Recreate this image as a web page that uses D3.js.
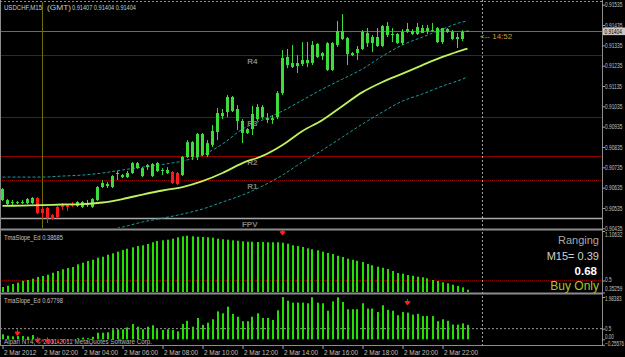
<!DOCTYPE html>
<html><head><meta charset="utf-8">
<script src="https://cdn.jsdelivr.net/npm/d3@7"></script>
<style>html,body{margin:0;padding:0;background:#000;overflow:hidden}</style>
</head><body><svg id="c" width="625" height="357"></svg>
<script>
// ---------- DATA ----------
const opens = [0.90574,0.90554,0.90559,0.90562,0.90559,0.90559,0.90559,0.90584,0.90530,0.90535,
0.90500,0.90540,0.90549,0.90549,0.90549,0.90545,0.90540,0.90549,0.90540,0.90574,
0.90638,0.90643,0.90638,0.90702,0.90687,0.90687,0.90707,0.90731,0.90692,0.90736,
0.90692,0.90717,0.90717,0.90707,0.90712,0.90707,0.90697,0.90786,0.90786,0.90786,
0.90795,0.90795,0.90845,0.90909,0.90987,0.91007,0.91012,0.91022,0.90963,0.90923,
0.90923,0.90972,0.90982,0.90977,0.90977,0.90982,0.91100,0.91278,0.91248,0.91248,
0.91243,0.91248,0.91248,0.91278,0.91297,0.91346,0.91214,0.91337,0.91405,0.91371,
0.91297,0.91297,0.91317,0.91396,0.91346,0.91376,0.91332,0.91430,0.91386,0.91391,
0.91346,0.91401,0.91405,0.91391,0.91420,0.91405,0.91410,0.91420,0.91351,0.91415,
0.91401,0.91366,0.91366,0.91407];
const highs = [0.90633,0.90579,0.90574,0.90569,0.90574,0.90584,0.90589,0.90589,0.90540,0.90540,
0.90505,0.90545,0.90559,0.90554,0.90564,0.90569,0.90569,0.90574,0.90584,0.90643,
0.90672,0.90663,0.90697,0.90717,0.90702,0.90717,0.90761,0.90761,0.90736,0.90751,
0.90756,0.90761,0.90731,0.90736,0.90717,0.90712,0.90791,0.90869,0.90864,0.90904,
0.90904,0.90869,0.90943,0.91027,0.91022,0.91091,0.91086,0.91041,0.90972,0.90928,
0.91037,0.91046,0.91041,0.91002,0.90992,0.91110,0.91312,0.91317,0.91337,0.91287,
0.91351,0.91351,0.91356,0.91346,0.91302,0.91351,0.91351,0.91455,0.91489,0.91376,
0.91302,0.91332,0.91410,0.91420,0.91386,0.91420,0.91435,0.91450,0.91420,0.91396,
0.91415,0.91445,0.91415,0.91445,0.91435,0.91435,0.91445,0.91425,0.91420,0.91420,
0.91410,0.91396,0.91410,0.91407];
const lows = [0.90569,0.90549,0.90549,0.90554,0.90554,0.90554,0.90554,0.90505,0.90485,0.90461,
0.90476,0.90485,0.90525,0.90520,0.90540,0.90540,0.90535,0.90540,0.90535,0.90569,
0.90633,0.90633,0.90633,0.90672,0.90682,0.90682,0.90702,0.90727,0.90687,0.90722,
0.90687,0.90712,0.90697,0.90702,0.90653,0.90648,0.90692,0.90781,0.90771,0.90771,
0.90791,0.90786,0.90835,0.90869,0.90972,0.90982,0.91007,0.90918,0.90854,0.90899,
0.90894,0.90963,0.90972,0.90953,0.90948,0.90972,0.91091,0.91223,0.91223,0.91199,
0.91233,0.91228,0.91238,0.91273,0.91263,0.91209,0.91209,0.91327,0.91361,0.91238,
0.91282,0.91263,0.91312,0.91327,0.91302,0.91327,0.91327,0.91376,0.91351,0.91342,
0.91337,0.91396,0.91386,0.91386,0.91396,0.91391,0.91401,0.91346,0.91342,0.91396,
0.91361,0.91322,0.91356,0.91404];
const closes = [0.90628,0.90574,0.90564,0.90564,0.90564,0.90579,0.90584,0.90510,0.90510,0.90485,
0.90481,0.90490,0.90540,0.90540,0.90545,0.90564,0.90564,0.90559,0.90579,0.90638,
0.90658,0.90653,0.90692,0.90707,0.90697,0.90707,0.90756,0.90756,0.90731,0.90746,
0.90751,0.90756,0.90722,0.90722,0.90658,0.90653,0.90786,0.90859,0.90859,0.90899,
0.90899,0.90854,0.90914,0.91002,0.91002,0.91081,0.91081,0.90963,0.90904,0.90904,
0.90997,0.91032,0.91032,0.90968,0.90968,0.91100,0.91273,0.91238,0.91228,0.91233,
0.91263,0.91263,0.91337,0.91342,0.91282,0.91214,0.91346,0.91405,0.91366,0.91292,
0.91287,0.91317,0.91401,0.91346,0.91376,0.91332,0.91430,0.91386,0.91391,0.91346,
0.91401,0.91415,0.91391,0.91425,0.91396,0.91420,0.91405,0.91351,0.91420,0.91401,
0.91366,0.91376,0.91401,0.91404];
const redCandles = [7,8,9,10,11,12,13,14,34,35];

const maBars   = [0,4,8,12,16,20,24,28,32,36,40,44,48,52,56,60,64,68,72,76,80,84,88,92,93];
const maCenter = [0.90545,0.90547,0.90549,0.90552,0.90554,0.90562,0.90579,0.90601,0.90621,0.90638,0.90667,0.90707,0.90756,0.90791,0.90845,0.90914,0.90968,0.91037,0.91105,0.91155,0.91196,0.91238,0.91278,0.91312,0.91319];
const maUpper  = [0.90687,0.90687,0.90687,0.90692,0.90697,0.90707,0.90722,0.90736,0.90749,0.90766,0.90795,0.90850,0.90923,0.90968,0.91012,0.91066,0.91120,0.91169,0.91219,0.91282,0.91337,0.91376,0.91415,0.91450,0.91455];
const maLower  = [0.90402,0.90402,0.90407,0.90412,0.90412,0.90421,0.90441,0.90466,0.90485,0.90505,0.90530,0.90564,0.90599,0.90643,0.90697,0.90761,0.90820,0.90884,0.90948,0.91007,0.91061,0.91096,0.91135,0.91169,0.91179];

const levelNames  = ['R4','R3','R2','R1','FPV'];
const levelValues = [0.91288,0.90982,0.90789,0.90672,0.90484];
const bidPrice = 0.91404;

const slope1 = [0.420,0.436,0.457,0.473,0.497,0.506,0.522,0.543,0.555,0.571,
0.595,0.616,0.637,0.653,0.665,0.698,0.718,0.739,0.754,0.779,
0.791,0.816,0.833,0.853,0.873,0.889,0.906,0.922,0.931,0.947,
0.968,0.984,0.992,1.000,1.012,1.029,1.041,1.049,1.041,1.036,
1.033,1.029,1.024,1.012,1.005,1.000,0.992,0.987,0.980,0.975,
0.975,0.971,0.971,0.968,0.968,0.968,0.963,0.951,0.931,0.922,
0.910,0.894,0.882,0.870,0.853,0.837,0.824,0.803,0.788,0.767,
0.754,0.742,0.726,0.702,0.686,0.669,0.656,0.640,0.616,0.591,
0.583,0.567,0.558,0.546,0.539,0.527,0.506,0.494,0.478,0.465,
0.448,0.432,0.416,0.387];
const slope2 = [0.235,0.17,0.14,0.15,0.155,0.13,0.2,-0.05,-0.1,-0.18,
-0.22,-0.2,-0.15,-0.1,-0.06,0.05,0.08,0.06,0.12,0.31,
0.31,0.33,0.47,0.47,0.47,0.56,0.72,0.59,0.47,0.59,
0.66,0.47,0.44,0.47,0.44,0.375,0.72,0.87,0.59,1.0,
0.68,0.78,0.94,1.31,1.22,1.53,1.19,1.06,0.85,0.85,
1.06,1.22,1.0,1.0,0.91,1.36,1.98,1.81,1.72,1.72,
1.72,1.69,1.97,1.72,1.69,1.34,1.78,1.97,1.75,1.41,
1.41,1.41,1.69,1.44,1.44,1.28,1.60,1.38,1.34,1.13,
1.28,1.25,1.16,1.19,1.09,1.09,1.09,0.85,0.94,0.87,
0.69,0.69,0.75,0.678];
const arrowBars1 = [56], arrowVals1 = [1.08];
const arrowBars2 = [3,7,9,81], arrowVals2 = [0.27,-0.07,-0.09,1.70];

const priceTicks = [0.91535,0.91435,0.91335,0.91235,0.91135,0.91035,0.90935,0.90835,0.90735,0.90635,0.90535,0.90435];
const sub1Ticks = [1.10632,0.5,0.35259];
const sub2Ticks = [1.98383,0.5,0.00,-0.25576];
const timeBars = [0,8,16,24,32,40,48,56,64,72,80,88];
const timeLabels = ['2 Mar 2012','2 Mar 02:00','2 Mar 04:00','2 Mar 06:00','2 Mar 08:00','2 Mar 10:00','2 Mar 12:00','2 Mar 14:00','2 Mar 16:00','2 Mar 18:00','2 Mar 20:00','2 Mar 22:00'];
const separatorBar = 8, cursorBar = 96;

// ---------- DRAW ----------
const FONT = '"Liberation Sans", Arial, sans-serif';
const svg = d3.select('#c');
svg.append('rect').attr('width',625).attr('height',357).attr('fill','#000');

const x  = d3.scaleLinear().domain([0,93]).range([2.5,467.5]);
const yM = d3.scaleLinear().domain([0.90435,0.91535]).range([228.3,4.7]);
const y1 = d3.scaleLinear().domain([0.35259,1.10632]).range([292.5,231]);
const y2 = d3.scaleLinear().domain([-0.25576,1.98383]).range([344.8,297]);
const R = 602;

function label(g,xx,yy,s,o={}){
  const t=g.append('text').attr('x',xx).attr('y',yy).text(s)
    .attr('fill',o.fill||'#c0c0c0').attr('font-size',o.size||7).attr('font-family',FONT);
  if(o.len) t.attr('textLength',o.len).attr('lengthAdjust','spacingAndGlyphs');
  if(o.anchor) t.attr('text-anchor',o.anchor);
  if(o.weight) t.attr('font-weight',o.weight);
  return t;
}

const defs = svg.append('defs');
defs.append('clipPath').attr('id','cm').append('rect').attr('x',1).attr('y',2).attr('width',R-1).attr('height',226);

// main panel
const main = svg.append('g').attr('clip-path','url(#cm)');
levelValues.forEach((v,i)=>{
  const isFPV = levelNames[i]==='FPV';
  main.append('line').attr('x1',0).attr('x2',R).attr('y1',Math.round(yM(v))+0.5).attr('y2',Math.round(yM(v))+0.5)
    .attr('stroke', isFPV?'#a8a8a8':'#940000').attr('stroke-width', isFPV?1.6:1)
    .attr('stroke-dasharray', levelNames[i]==='R1'?'1,1':null);
  label(main, x(51), Math.round(yM(v))+9, levelNames[i], {fill:'#808080',size:8,weight:'bold',anchor:'end'});
});
main.append('line').attr('x1',0).attr('x2',R).attr('y1',Math.round(yM(bidPrice))+0.5).attr('y2',Math.round(yM(bidPrice))+0.5)
  .attr('stroke','#5c745c').attr('stroke-width',1);
main.append('line').attr('x1',x(separatorBar)).attr('x2',x(separatorBar)).attr('y1',0).attr('y2',228)
  .attr('stroke','#6e6e00').attr('stroke-width',1);

const pts = arr => maBars.map((b,i)=>[x(b),yM(arr[i])]);
const ln = d3.line().curve(d3.curveMonotoneX);
main.append('path').attr('d',ln(pts(maUpper))).attr('fill','none').attr('stroke','#1b9c9c').attr('stroke-width',1).attr('stroke-dasharray','3,2');
main.append('path').attr('d',ln(pts(maLower))).attr('fill','none').attr('stroke','#1b9c9c').attr('stroke-width',1).attr('stroke-dasharray','3,2');

const idx = d3.range(opens.length);
const col = i => redCandles.includes(i) ? '#ff1a1a' : '#3cdc3c';
main.append('g').selectAll('line').data(idx).join('line')
  .attr('x1',i=>x(i)).attr('x2',i=>x(i))
  .attr('y1',i=>yM(highs[i])).attr('y2',i=>yM(lows[i]))
  .attr('stroke',col).attr('stroke-width',1);
main.append('g').selectAll('rect').data(idx).join('rect')
  .attr('x',i=>x(i)-1.5).attr('width',3)
  .attr('y',i=>yM(Math.max(opens[i],closes[i])))
  .attr('height',i=>Math.max(1,Math.abs(yM(opens[i])-yM(closes[i]))))
  .attr('fill',col);

main.append('path').attr('d',ln(pts(maCenter))).attr('fill','none').attr('stroke','#bef25e').attr('stroke-width',1.8);

label(svg, 480, 39, '<-- 14:52', {fill:'#c89a3a', size:8});

label(svg, 4, 10, 'USDCHF,M15', {size:7, len:38, fill:'#c8c8c8'});
label(svg, 47, 10, '(GMT)', {size:7, len:24, fill:'#c8c8c8'});
label(svg, 72, 10, '0.91407 0.91404 0.91404', {size:7, len:64, fill:'#c8c8c8'});

// sub-panel 1
const s1 = svg.append('g');
s1.append('line').attr('x1',0).attr('x2',R).attr('y1',y1(0.5)).attr('y2',y1(0.5))
  .attr('stroke','#8a0000').attr('stroke-dasharray','1,1');
s1.selectAll('rect').data(idx).join('rect')
  .attr('x',i=>Math.round(x(i)-1)).attr('width',2)
  .attr('y',i=>y1(slope1[i])).attr('height',i=>292-y1(slope1[i]))
  .attr('fill','#22e000');
label(s1, 4, 240, 'TmaSlope_Ed 0.38685', {size:7, len:59});
label(s1, 599, 244, 'Ranging', {size:11, fill:'#a8a8a8', anchor:'end'});
label(s1, 599, 259.5, 'M15= 0.39', {size:11, fill:'#cfcfcf', anchor:'end'});
label(s1, 597, 274.5, '0.68', {size:11.5, fill:'#ffffff', anchor:'end', weight:'bold'});
label(s1, 599, 290, 'Buy Only', {size:12, fill:'#b0c428', anchor:'end'});

// sub-panel 2
const s2 = svg.append('g');
s2.append('line').attr('x1',0).attr('x2',R).attr('y1',y2(0.5)).attr('y2',y2(0.5))
  .attr('stroke','#9a9a9a').attr('stroke-dasharray','2,2');
s2.selectAll('rect').data(idx).join('rect')
  .attr('x',i=>Math.round(x(i)-1)).attr('width',2)
  .attr('y',i=>Math.min(y2(slope2[i]),y2(0)))
  .attr('height',i=>Math.abs(y2(slope2[i])-y2(0)))
  .attr('fill',i=>slope2[i]<0?'#d01010':'#22e000');
label(s2, 4, 302.5, 'TmaSlope_Ed 0.67798', {size:7, len:59});
label(s2, 4, 344, 'Alpari NT4, \u00a9 2001-2011 MetaQuotes Software Corp.', {size:6.5, len:148, fill:'#b8b8b8'});

function arrow(g,cx,cy){
  g.append('path').attr('d',`M${cx},${cy-4}V${cy-1}M${cx-2.5},${cy-1.5}H${cx+2.5}L${cx},${cy+2}Z`)
   .attr('stroke','#ff2020').attr('fill','#ff2020').attr('stroke-width',1);
}
arrowBars1.forEach((b,i)=>arrow(s1,x(b),y1(arrowVals1[i])));
arrowBars2.forEach((b,i)=>arrow(s2,x(b),y2(arrowVals2[i])));

const fr = svg.append('g').attr('stroke','#8c8c8c').attr('fill','none');
fr.append('line').attr('x1',0).attr('x2',R).attr('y1',1.5).attr('y2',1.5).attr('stroke-dasharray','2,2');
fr.append('line').attr('x1',0).attr('x2',R).attr('y1',229.5).attr('y2',229.5).attr('stroke-width',2);
fr.append('line').attr('x1',0).attr('x2',R).attr('y1',293.5).attr('y2',293.5).attr('stroke-width',2);
fr.append('line').attr('x1',0).attr('x2',R).attr('y1',345.5).attr('y2',345.5);
fr.append('line').attr('x1',0.5).attr('x2',0.5).attr('y1',0).attr('y2',346);
fr.append('line').attr('x1',R+0.5).attr('x2',R+0.5).attr('y1',0).attr('y2',346);
svg.append('line').attr('x1',x(cursorBar)).attr('x2',x(cursorBar)).attr('y1',0).attr('y2',346)
  .attr('stroke','#a0a0a0').attr('stroke-dasharray','2,2');

// right-axis text: narrow by horizontal scaling so it fits the 20px strip
function squeeze(sel, sx){
  sel.each(function(){
    const t=d3.select(this);
    const x0=+t.attr('x')||0;
    t.attr('x',0).attr('transform',`translate(${x0},0) scale(${sx},1)`);
  });
}
function styleAxis(g){
  g.select('.domain').remove();
  g.selectAll('line').attr('stroke','#a0a0a0');
  g.selectAll('text').attr('fill','#c0c0c0').attr('font-family',FONT).attr('font-size',6.5);
}
const axM = svg.append('g').attr('transform',`translate(${R},0)`)
  .call(d3.axisRight(yM).tickValues(priceTicks).tickFormat(d3.format('.5f')).tickSize(3).tickPadding(0));
styleAxis(axM);
squeeze(axM.selectAll('text'),0.74);

svg.append('rect').attr('x',603).attr('y',yM(bidPrice)-3.8).attr('width',22).attr('height',7.6).attr('fill','#c8c8c8');
const bidG = svg.append('g').attr('transform',`translate(604.5,${yM(bidPrice)+2.4}) scale(0.74,1)`);
label(bidG,0,0,d3.format('.5f')(bidPrice),{fill:'#000',size:6.5});

const ax1 = svg.append('g').attr('transform',`translate(${R},0)`)
  .call(d3.axisRight(y1).tickValues(sub1Ticks).tickFormat(d=>d===0.5?'0.5':d3.format('.5f')(d)).tickSize(3).tickPadding(0));
styleAxis(ax1);
ax1.selectAll('text').attr('dy',(d)=>d===sub1Ticks[0]?'0.9em':d===sub1Ticks[2]?'-0.35em':'0.2em');
squeeze(ax1.selectAll('text'),0.74);
const ax2 = svg.append('g').attr('transform',`translate(${R},0)`)
  .call(d3.axisRight(y2).tickValues(sub2Ticks).tickFormat(d=>d===0.5?'0.5':d===0?'0.00':d3.format('.5f')(d)).tickSize(3).tickPadding(0));
styleAxis(ax2);
ax2.selectAll('text').attr('dy',(d)=>d===sub2Ticks[0]?'0.5em':d===0?'-0.1em':d<0?'0.1em':'0.32em');
squeeze(ax2.selectAll('text'),0.7);

const axT = svg.append('g').attr('transform','translate(0,346)')
  .call(d3.axisBottom(x).tickValues(timeBars).tickFormat((d,i)=>timeLabels[i]).tickSize(3));
styleAxis(axT);
axT.selectAll('text').attr('text-anchor','start').attr('x',1).attr('y',4).attr('dy','0.71em').attr('font-size',6.4);
</script></body></html>
